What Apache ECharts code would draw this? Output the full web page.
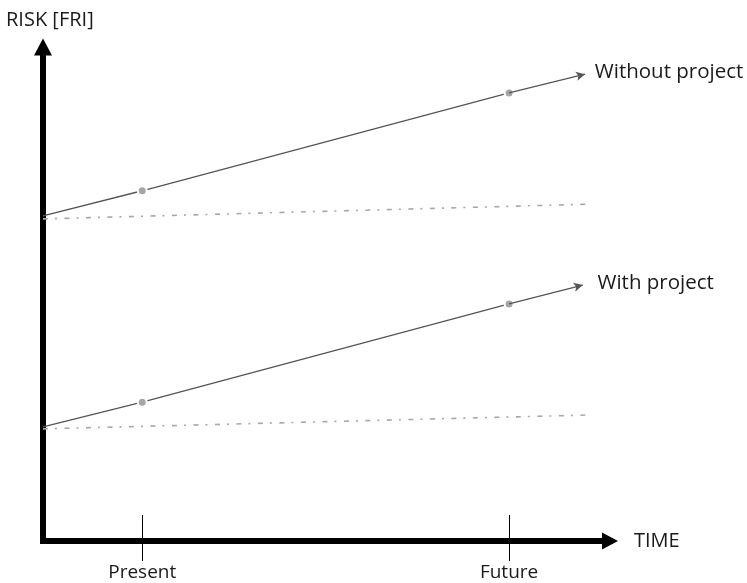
<!DOCTYPE html>
<html><head><meta charset="utf-8">
<script src="https://cdn.jsdelivr.net/npm/echarts@6/dist/echarts.min.js"></script>
<style>html,body{margin:0;padding:0;background:#fff}#c{width:747px;height:583px}</style>
</head><body><div id="c"></div>
<script>
// Data (arbitrary units: time 0..100, risk 0..100)
const tickValues = [17.5, 82.2];
const tickLabels = ['Present', 'Future'];
const withoutX = [0, 17.5, 82.2, 95.6];
const withoutY = [65.8, 70.9, 90.7, 94.5];
const withoutBaseX = [0, 96.8];
const withoutBaseY = [65.2, 68.2];
const withX = [0, 17.5, 82.2, 95.2];
const withY = [23.1, 28.1, 48.0, 51.8];
const withBaseX = [0, 95.9];
const withBaseY = [22.7, 25.5];
const seriesNames = ['Without project', 'With project'];

const FONT = '"Open Sans", "DejaVu Sans", sans-serif';
const zip = (xs, ys) => xs.map((x, i) => [x, ys[i]]);

function mainLine(name, xs, ys, labelPad) {
  const pts = zip(xs, ys);
  const n = pts.length;
  return {
    name: name, type: 'line', xAxisIndex: 0, yAxisIndex: 0,
    data: pts.slice(0, n - 1).map((p, i) => ({
      value: p,
      symbol: i === 0 ? 'none' : 'circle'
    })),
    showSymbol: true, symbolSize: 9,
    itemStyle: { color: '#a6a6a6', borderColor: '#ffffff', borderWidth: 2 },
    lineStyle: { color: '#555555', width: 1.3 },
    silent: true, animation: false, z: 3,
    markLine: {
      silent: true, animation: false,
      symbol: ['none', 'arrow'], symbolSize: [7, 9],
      label: { show: true, position: 'end', formatter: name, distance: 9,
        padding: labelPad,
        color: '#1a1a1a', fontSize: 20.5, fontFamily: FONT },
      lineStyle: { color: '#555555', width: 1.3, type: 'solid' },
      data: [[{ coord: pts[n - 2] }, { coord: pts[n - 1] }]]
    }
  };
}
function baseLine(xs, ys) {
  return {
    type: 'line', xAxisIndex: 0, yAxisIndex: 0,
    data: zip(xs, ys), symbol: 'none', silent: true, animation: false,
    lineStyle: { color: '#a8a8a8', width: 1.6, type: [5, 7, 2, 7.5] }, z: 2
  };
}

const chart = echarts.init(document.getElementById('c'), null, { renderer: 'canvas' });
chart.setOption({
  backgroundColor: '#ffffff',
  animation: false,
  title: {
    text: 'RISK [FRI]', left: 1, top: 5,
    textStyle: { fontSize: 20, fontWeight: 'normal', color: '#1a1a1a', fontFamily: FONT }
  },
  grid: { left: 43, right: 137, top: 47, bottom: 42 },
  xAxis: [{
    type: 'value', min: 0, max: 100, position: 'bottom',
    name: 'TIME', nameLocation: 'end', nameGap: 24,
    nameTextStyle: { fontSize: 20, color: '#1a1a1a', fontFamily: FONT },
    axisLine: { show: true, symbol: ['none', 'triangle'], symbolSize: [17, 16],
      lineStyle: { color: '#000', width: 6, cap: 'square' } },
    axisTick: { show: true, inside: false, length: 20, customValues: tickValues,
      lineStyle: { color: '#000', width: 1 } },
    axisLabel: { show: true, customValues: tickValues, margin: 22,
      formatter: v => tickLabels[tickValues.indexOf(v)] || '',
      fontSize: 19, color: '#1a1a1a', fontFamily: FONT },
    splitLine: { show: false }
  }, {
    type: 'value', min: 0, max: 100, position: 'bottom', gridIndex: 0,
    axisLine: { show: false },
    axisTick: { show: true, inside: true, length: 26, customValues: tickValues,
      lineStyle: { color: '#000', width: 1 } },
    axisLabel: { show: false }, splitLine: { show: false }
  }],
  yAxis: {
    type: 'value', min: 0, max: 100,
    axisLine: { show: true, symbol: ['none', 'triangle'], symbolSize: [18, 17],
      lineStyle: { color: '#000', width: 6, cap: 'square' } },
    axisTick: { show: false }, axisLabel: { show: false }, splitLine: { show: false }
  },
  series: [
    baseLine(withoutBaseX, withoutBaseY),
    baseLine(withBaseX, withBaseY),
    mainLine(seriesNames[0], withoutX, withoutY, [5, 0, 0, 1]),
    mainLine(seriesNames[1], withX, withY, [4, 0, 0, 6])
  ]
});
</script></body></html>
